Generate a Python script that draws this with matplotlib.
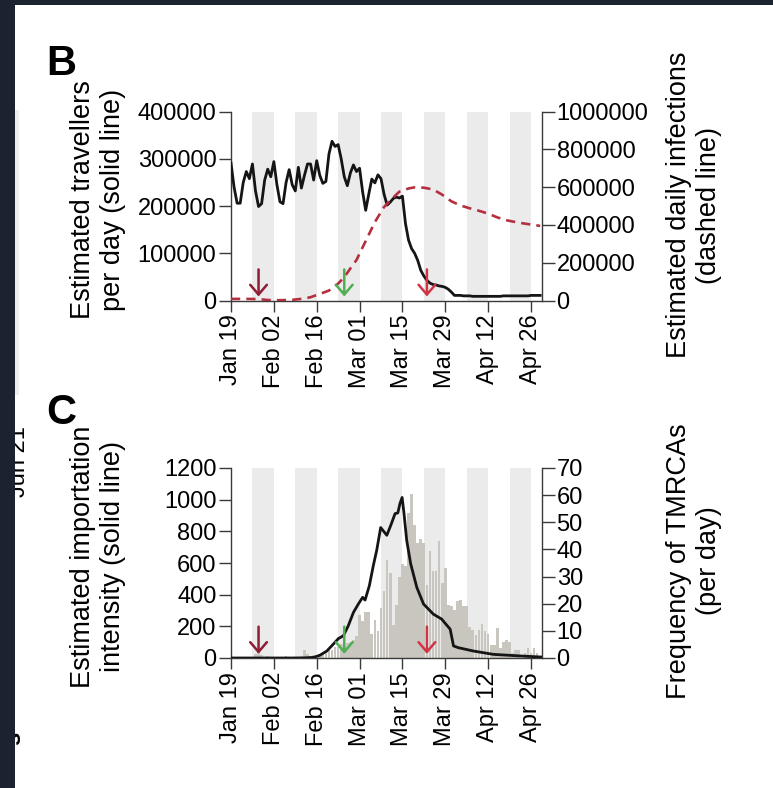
import matplotlib
matplotlib.use('Agg')
import matplotlib.pyplot as plt
import matplotlib.dates as mdates
from matplotlib.patches import Rectangle
import pandas as pd

plt.rcParams['font.family'] = ['Liberation Sans', 'DejaVu Sans']

# ---------------- data ----------------
START = '2020-01-19'
# Panel B: estimated travellers per day (thousands), daily from Jan 19
travellers_k = [291, 240, 206, 206, 250, 273, 258, 289, 232, 199,
                205, 255, 278, 262, 294, 245, 209, 205, 250, 277,
                245, 232, 282, 238, 265, 289, 289, 255, 296, 265,
                248, 252, 310, 337, 326, 330, 300, 262, 243, 270,
                287, 273, 280, 230, 191, 225, 257, 249, 266, 258,
                225, 202, 208, 216, 219, 217, 221, 163, 128, 110,
                100, 85, 64, 52, 43, 37, 34, 33, 31, 30,
                28, 24, 18, 11, 11, 11, 10, 10, 10, 9,
                9, 9, 9, 9, 9, 9, 9, 9, 9, 10,
                10, 10, 10, 10, 10, 10, 10, 10, 11, 11,
                11, 11]
# Panel B: estimated daily infections (thousands)
infect_days = [0, 5, 9, 12, 16, 20, 24, 26, 29, 32, 35, 37, 39, 41, 44, 47,
               50, 52, 55, 58, 60, 63, 66, 69, 72, 75, 78, 81, 84, 87, 90,
               93, 96, 99, 101]
infect_k = [9, 9, 8, 3, 2, 4, 11, 18, 35, 53, 90, 124, 170, 215, 315, 415,
            495, 530, 576, 593, 599, 597, 588, 560, 525, 503, 488, 475, 460,
            440, 425, 415, 407, 400, 395]
# Panel C: estimated importation intensity
import_days = [0, 10, 20, 24, 27, 29, 31.3, 33.4, 35.1, 36.7, 38.3, 40, 41.6,
               43, 43.8, 45.2, 46.5, 47.6, 48.9, 50.9, 52.2, 53.6, 54.5, 55.2,
               55.9, 56.5, 57.4, 58.7, 60.7, 62.9, 66.1, 68.8, 71.6, 72.7,
               74.3, 79.2, 85.7, 94.4, 101.5]
import_vals = [0, 0, 0, 1, 4, 17, 44, 87, 123, 140, 203, 288, 341,
               383, 366, 457, 584, 680, 824, 775, 838, 912, 916, 976,
               1014, 916, 743, 595, 446, 341, 277, 246, 182, 76,
               65, 44, 23, 13, 6]
# Panel C: frequency of TMRCAs per day
tmrca_days = [8, 9, 10, 12, 18, 24, 25, 27, 29, 30, 31, 32,
              33, 34, 35, 36, 37, 38, 39, 40, 41, 42, 43, 44, 45, 46, 47,
              48, 49, 50, 51, 52, 53, 54, 55, 56, 57, 58, 59, 60, 61, 62,
              63, 64, 65, 66, 67, 68, 69, 70, 71, 72, 73, 74, 75, 76, 77,
              78, 79, 80, 81, 82, 83, 84, 85, 86, 87, 88, 89, 90, 91, 92,
              93, 94, 96, 97, 98, 99, 100]
tmrca_vals = [1.5, 2.5, 1, 0.8, 0.8, 3, 1.5, 1.2, 1.5, 2, 2.5, 3,
              3, 4, 4, 5, 4, 5.4, 6, 6.7, 8, 16, 13.5, 17, 17, 9, 14,
              9.8, 18.4, 24.6, 36, 31.4, 12, 19.6, 30, 34.5, 34, 53.6, 60.6, 49, 42.5, 44,
              42.5, 27, 39.4, 32, 32, 43, 27.7, 33, 19.6, 19, 17.8, 20.9, 21.5, 19, 19,
              11.6, 10.4, 8.5, 10.4, 12.6, 9.8, 9, 4.8, 4.8, 11, 3.6, 6, 6.7, 6, 1.7,
              3, 3, 1.7, 3.8, 1.7, 3.6, 2]

tick_dates = ['2020-01-19', '2020-02-02', '2020-02-16', '2020-03-01',
              '2020-03-15', '2020-03-29', '2020-04-12', '2020-04-26']
tick_labels = ['Jan 19', 'Feb 02', 'Feb 16', 'Mar 01', 'Mar 15', 'Mar 29',
               'Apr 12', 'Apr 26']
arrow_dates = ['2020-01-28', '2020-02-25', '2020-03-23']
arrow_colors = ['#8e1d35', '#4fae52', '#cf3547']

b_left_ticks = [0, 100000, 200000, 300000, 400000]
b_right_ticks = [0, 200000, 400000, 600000, 800000, 1000000]
c_left_ticks = [0, 200, 400, 600, 800, 1000, 1200]
c_right_ticks = [0, 10, 20, 30, 40, 50, 60, 70]

# ---------------- helpers ----------------
start = pd.Timestamp(START)
def dnum(d):
    return mdates.date2num(start + pd.to_timedelta(d, unit='D'))

W, H = 773, 788
fig = plt.figure(figsize=(W / 100, H / 100), dpi=100)

def px_axes(left, top, right, bottom):
    return fig.add_axes([left / W, 1 - bottom / H, (right - left) / W, (bottom - top) / H])

XMIN = dnum(0)
XMAX = dnum(101.6)
tick_x = [mdates.date2num(pd.Timestamp(t)) for t in tick_dates]
BAND = '#ebebeb'
SPINE = '#3a3a3a'
TFS = 17

def style_axes(ax, ax2):
    for a in (ax, ax2):
        a.spines['top'].set_visible(False)
        for s in a.spines.values():
            s.set_color(SPINE)
            s.set_linewidth(1.0)
    ax.spines['right'].set_visible(False)
    ax2.spines['left'].set_visible(False)
    ax2.spines['bottom'].set_visible(False)
    ax.set_xlim(XMIN, XMAX)
    ax.set_xticks(tick_x, tick_labels, rotation=90)
    ax.tick_params(axis='x', direction='out', length=8, width=1, pad=2,
                   labelsize=TFS, color=SPINE)
    ax.tick_params(axis='y', direction='out', length=9, width=1, pad=1.5,
                   labelsize=TFS, color=SPINE)
    ax2.tick_params(axis='y', direction='out', length=9, width=1, pad=1.5,
                    labelsize=TFS, color=SPINE)

def bands(ax):
    for t in tick_x[1:]:
        ax.axvspan(t - 7, t, color=BAND, lw=0, zorder=0)

def arrows(ax):
    for d, c in zip(arrow_dates, arrow_colors):
        x = mdates.date2num(pd.Timestamp(d))
        ax.annotate('', xy=(x, 0.022), xytext=(x, 0.165),
                    xycoords=('data', 'axes fraction'),
                    textcoords=('data', 'axes fraction'),
                    arrowprops=dict(arrowstyle='->,head_length=0.35,head_width=0.3',
                                    color=c, lw=1.8, mutation_scale=20,
                                    shrinkA=0, shrinkB=0), zorder=6)

# ---------------- panel B ----------------
axB = px_axes(231, 111.5, 542, 300.6)
axB2 = axB.twinx()
style_axes(axB, axB2)
bands(axB)
xs_trav = [dnum(i) for i in range(len(travellers_k))]
axB.plot(xs_trav, [v * 1000 for v in travellers_k], color='#151515', lw=2.0,
         zorder=4, solid_joinstyle='round')
axB2.plot([dnum(d) for d in infect_days], [v * 1000 for v in infect_k],
          color='#b5303f', lw=1.9, dashes=(3.5, 2.3), zorder=3)
axB.set_ylim(0, 400000)
axB2.set_ylim(0, 1000000)
axB.set_yticks(b_left_ticks, [str(v) for v in b_left_ticks])
axB2.set_yticks(b_right_ticks, [str(v) for v in b_right_ticks])
arrows(axB2)

# ---------------- panel C ----------------
axC = px_axes(231, 468, 542, 658)
axC2 = axC.twinx()
axC.set_zorder(axC2.get_zorder() + 1)
axC.patch.set_visible(False)
axC2.patch.set_visible(True)
style_axes(axC, axC2)
bands(axC2)
axC2.bar([dnum(d) for d in tmrca_days], tmrca_vals, width=0.88,
         color='#c9c5bf', lw=0, zorder=2)
axC.plot([dnum(d) for d in import_days], import_vals, color='#151515', lw=2.0,
         zorder=4, solid_joinstyle='round')
axC.set_ylim(0, 1200)
axC2.set_ylim(0, 70)
axC.set_yticks(c_left_ticks, [str(v) for v in c_left_ticks])
axC2.set_yticks(c_right_ticks, [str(v) for v in c_right_ticks])
axC2.set_xlim(XMIN, XMAX)
arrows(axC)

# ---------------- labels ----------------
LFS = 19.5
def ftext(x, y, s, **kw):
    fig.text(x / W, 1 - y / H, s, **kw)

ftext(98, 200, 'Estimated travellers\nper day (solid line)', rotation=90,
      ha='center', va='center', fontsize=LFS, multialignment='center')
ftext(694, 205, 'Estimated daily infections\n(dashed line)', rotation=90,
      ha='center', va='center', fontsize=LFS, multialignment='center')
ftext(98, 557, 'Estimated importation\nintensity (solid line)', rotation=90,
      ha='center', va='center', fontsize=LFS, multialignment='center')
ftext(694, 561, 'Frequency of TMRCAs\n(per day)', rotation=90,
      ha='center', va='center', fontsize=LFS, multialignment='center')

ftext(46, 75, 'B', fontsize=30, fontweight='bold', ha='left', va='baseline',
      family=['Liberation Sans Narrow', 'Liberation Sans', 'DejaVu Sans'])
ftext(46, 424, 'C', fontsize=30, fontweight='bold', ha='left', va='baseline',
      family=['Liberation Sans Narrow', 'Liberation Sans', 'DejaVu Sans'])

# ---------------- screenshot frame ----------------
ftext(19, 462, 'Jun 21', rotation=90, ha='center', va='center', fontsize=17)
ftext(14, 738, 's', rotation=90, ha='center', va='center', fontsize=17,
      fontweight='bold')
fig.add_artist(Rectangle((15 / W, 1 - 395 / H), 4 / W, 285 / H,
                         transform=fig.transFigure, color='#eeeeee', lw=0, zorder=9))
fig.add_artist(Rectangle((0, 0), 15 / W, 1, transform=fig.transFigure,
                         color='#1b2230', lw=0, zorder=10))
fig.add_artist(Rectangle((0, 1 - 5 / H), 1, 5 / H, transform=fig.transFigure,
                         color='#1b2230', lw=0, zorder=10))

fig.savefig('out.png', dpi=100, facecolor='white')
